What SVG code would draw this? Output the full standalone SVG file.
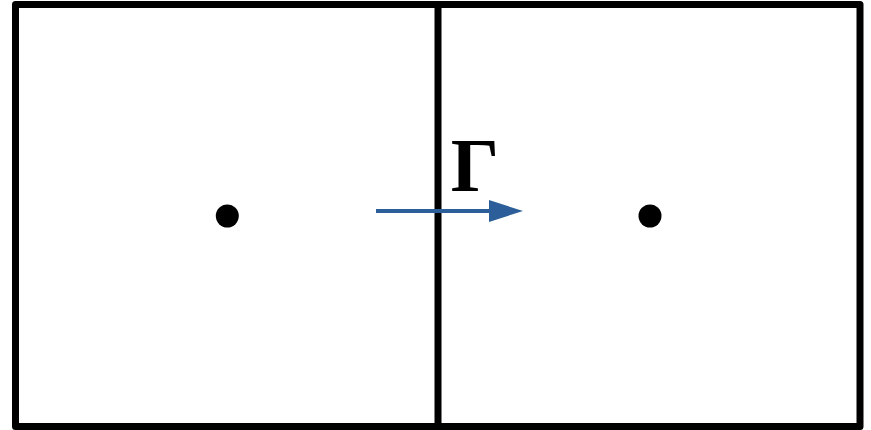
<svg xmlns="http://www.w3.org/2000/svg" width="871" height="430" viewBox="0 0 871 430">
<style>
.edge{fill:none;stroke:#000;stroke-width:7;stroke-linejoin:round;stroke-linecap:round}
.dot{fill:#000}
.flux{stroke:#2c5f99;stroke-width:4;fill:none}
.lbl{font-family:"Liberation Serif",serif;font-weight:bold;font-size:76px;fill:#000}
</style>
<defs>
<marker id="ah" markerUnits="userSpaceOnUse" markerWidth="34" markerHeight="22" refX="0" refY="11" orient="auto">
<path d="M0,0 L34,11 L0,22 Z" fill="#2c5f99"/>
</marker>
</defs>
<g id="cellLeft">
<path class="edge" d="M438,426.5 L15.5,426.5 L15.5,4.5 L438,4.5"/>
<circle class="dot" cx="227.3" cy="216" r="11.5"/>
</g>
<g id="cellRight">
<path class="edge" d="M438,4.5 L860,4.5 L860,426.5 L438,426.5"/>
<circle class="dot" cx="650" cy="216" r="11.5"/>
</g>
<g id="interface">
<line class="edge" x1="438" y1="4.5" x2="438" y2="426.5" stroke-linecap="butt"/>
</g>
<g id="connectors">
<line class="flux" x1="376" y1="211" x2="489" y2="211" marker-end="url(#ah)"/>
<text class="lbl" x="475" y="191" text-anchor="middle">Γ</text>
</g>
</svg>
